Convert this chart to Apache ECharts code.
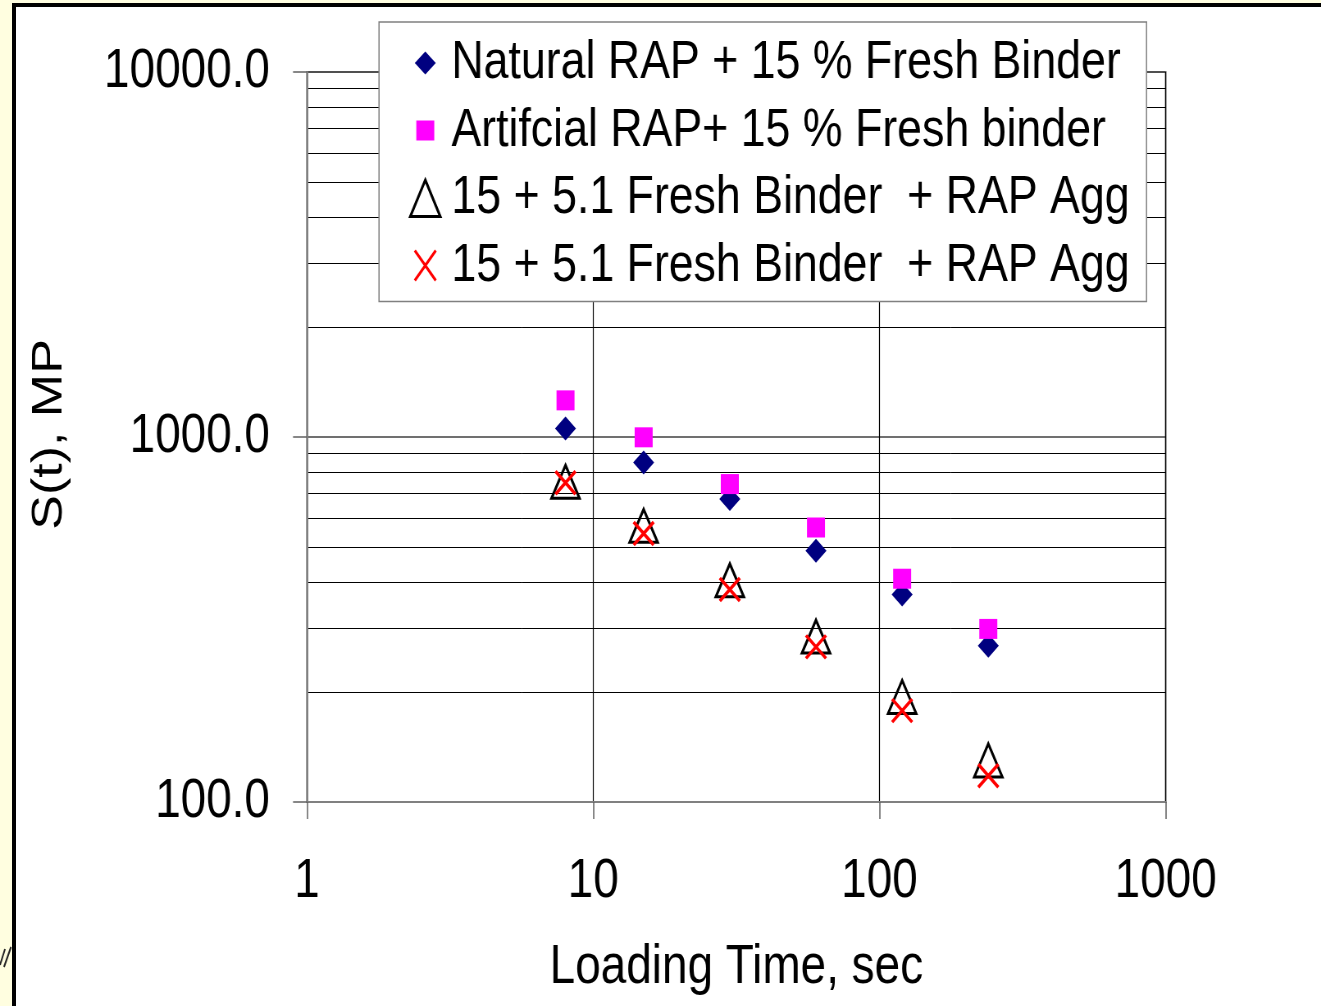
<!DOCTYPE html>
<html><head><meta charset="utf-8">
<script src="https://cdn.jsdelivr.net/npm/echarts@6/dist/echarts.min.js"></script>
<style>
html,body{margin:0;padding:0;width:1321px;height:1006px;overflow:hidden;background:#FFFEE0;}
#frame{position:absolute;left:12px;top:3px;width:1309px;height:1003px;box-sizing:border-box;background:#fff;border-left:4px solid #000;border-top:4px solid #000;}
/* Chart drawn wider and compressed horizontally to imitate the narrow (Arial Narrow-like) lettering */
#chart{position:absolute;left:0;top:0;width:1611px;height:1006px;transform:scaleX(0.82);transform-origin:0 0;}
</style></head><body>
<div id="frame"></div><div id="chart"></div>
<script>
const loadingTime = [8, 15, 30, 60, 120, 240];
const naturalRAP = [1055, 851, 676, 488, 370, 268];
const artificialRAP = [1260, 998, 743, 565, 409, 298];
const freshBinderA = [754, 571, 405, 284, 194, 130];
const freshBinderB = [749, 544, 382, 266, 178, 118];
const seriesNames = [
  'Natural RAP + 15 % Fresh Binder',
  'Artifcial RAP+ 15 % Fresh binder',
  '15 + 5.1 Fresh Binder  + RAP Agg',
  '15 + 5.1 Fresh Binder \u00a0+ RAP Agg'
];
const xTickValues = [1, 10, 100, 1000];
const xTickLabels = ['1', '10', '100', '1000'];
const yTickValues = [100, 1000, 10000];
const yTickLabels = ['100.0', '1000.0', '10000.0'];
const xAxisTitle = 'Loading Time, sec';
const yAxisTitle = 'S(t), MPa';

const SX = 0.82;              // horizontal compression applied by CSS
const px = v => v / SX;       // screen x-size -> chart x-size
const FONT = '"Liberation Sans", Arial, sans-serif';

function pairs(arr) { return loadingTime.map((t, i) => [t, arr[i]]); }
function lookup(vals, labels, v) {
  const i = vals.findIndex(t => Math.abs(Math.log10(t) - Math.log10(v)) < 1e-6);
  return i >= 0 ? labels[i] : '';
}

const chart = echarts.init(document.getElementById('chart'), null, {renderer: 'canvas'});
const W = 1611;
const crossPath = 'path://M0,0L10,10M10,0L0,10';
const option = {
  backgroundColor: 'transparent',
  animation: false,
  grid: {left: px(307), right: W - px(1165.7), top: 72, bottom: 204, show: true, borderColor: '#808080', borderWidth: 2, backgroundColor: 'transparent'},
  xAxis: {
    type: 'log', logBase: 10, min: 1, max: 1000,
    name: xAxisTitle, nameLocation: 'middle', nameGap: 138,
    nameTextStyle: {fontFamily: FONT, fontSize: 56, color: '#000'},
    axisLine: {onZero: false, lineStyle: {color: '#808080', width: 2}},
    axisTick: {show: true, inside: false, length: 17, lineStyle: {color: '#606060', width: 1.5}},
    axisLabel: {margin: 52, fontFamily: FONT, fontSize: 56, color: '#000',
      formatter: v => lookup(xTickValues, xTickLabels, v)},
    splitLine: {show: true, lineStyle: {color: '#000', width: 1.2}},
    minorSplitLine: {show: false}
  },
  yAxis: {
    type: 'log', logBase: 10, min: 100, max: 10000,
    name: yAxisTitle, nameLocation: 'middle', nameGap: 288,
    nameTextStyle: {fontFamily: FONT, fontSize: 52, color: '#000', padding: [0, 0, 0, 34]},
    axisLine: {onZero: false, lineStyle: {color: '#808080', width: 2}},
    axisTick: {show: true, inside: false, length: px(14), lineStyle: {color: '#606060', width: 1.5}},
    axisLabel: {margin: px(37), fontFamily: FONT, fontSize: 56, color: '#000',
      formatter: v => lookup(yTickValues, yTickLabels, v)},
    splitLine: {show: true, lineStyle: {color: '#404040', width: 1.5}},
    minorTick: {show: false, splitNumber: 9},
    minorSplitLine: {show: true, lineStyle: {color: '#000', width: 1}}
  },
  legend: {
    orient: 'vertical', left: px(379), top: 22,
    padding: [13, px(17), 8, 34.2],
    backgroundColor: '#fff', borderColor: '#808080', borderWidth: 1.5,
    itemWidth: px(39), itemHeight: 42, itemGap: 11.5,
    symbolKeepAspect: false,
    textStyle: {fontFamily: FONT, fontSize: 54.5, color: '#000', lineHeight: 56},
    data: [
      {name: seriesNames[0], icon: 'path://M0,0M39,42M17,9.5L27.5,21L17,32.5L6.5,21Z', itemStyle: {color: '#000080', borderWidth: 0, opacity: 1}},
      {name: seriesNames[1], icon: 'path://M0,0M39,42M8,11L26,11L26,31L8,31Z', itemStyle: {color: '#FF00FF', borderWidth: 0, opacity: 1}},
      {name: seriesNames[2], icon: 'path://M0,0M39,42M17,3L32,39.5L2,39.5Z', itemStyle: {color: 'rgba(0,0,0,0)', borderColor: '#000', borderWidth: 3, opacity: 1}},
      {name: seriesNames[3], icon: 'path://M0,0M39,42M6.5,6L27.5,36M27.5,6L6.5,36', itemStyle: {color: 'rgba(0,0,0,0)', borderColor: '#FF0000', borderWidth: 3, opacity: 1}}
    ]
  },
  graphic: [
    {type: 'rect', shape: {x: px(20), y: 270, width: px(65), height: 67}, style: {fill: '#fff'}, z: 100},
    {type: 'line', shape: {x1: 0, y1: 965, x2: px(5), y2: 949}, style: {stroke: '#222', lineWidth: 2}, z: 100},
    {type: 'line', shape: {x1: px(4), y1: 967, x2: px(11), y2: 947}, style: {stroke: '#222', lineWidth: 2}, z: 100}
  ],
  series: [
    {name: seriesNames[0], type: 'scatter', data: pairs(naturalRAP), symbol: 'diamond', symbolSize: [px(21), 24],
      itemStyle: {color: '#000080', opacity: 1}, z: 3},
    {name: seriesNames[1], type: 'scatter', data: pairs(artificialRAP), symbol: 'rect', symbolSize: [px(18), 20],
      itemStyle: {color: '#FF00FF', opacity: 1}, z: 4},
    {name: seriesNames[2], type: 'scatter', data: pairs(freshBinderA), symbol: 'triangle', symbolSize: [px(28), 33],
      itemStyle: {color: 'rgba(0,0,0,0)', borderColor: '#000', borderWidth: 3, opacity: 1}, z: 5},
    {name: seriesNames[3], type: 'scatter', data: pairs(freshBinderB), symbol: crossPath, symbolSize: [px(20), 23],
      itemStyle: {color: 'rgba(0,0,0,0)', borderColor: '#FF0000', borderWidth: 3.5, opacity: 1}, z: 6}
  ]
};
chart.setOption(option);
</script>
</body></html>
